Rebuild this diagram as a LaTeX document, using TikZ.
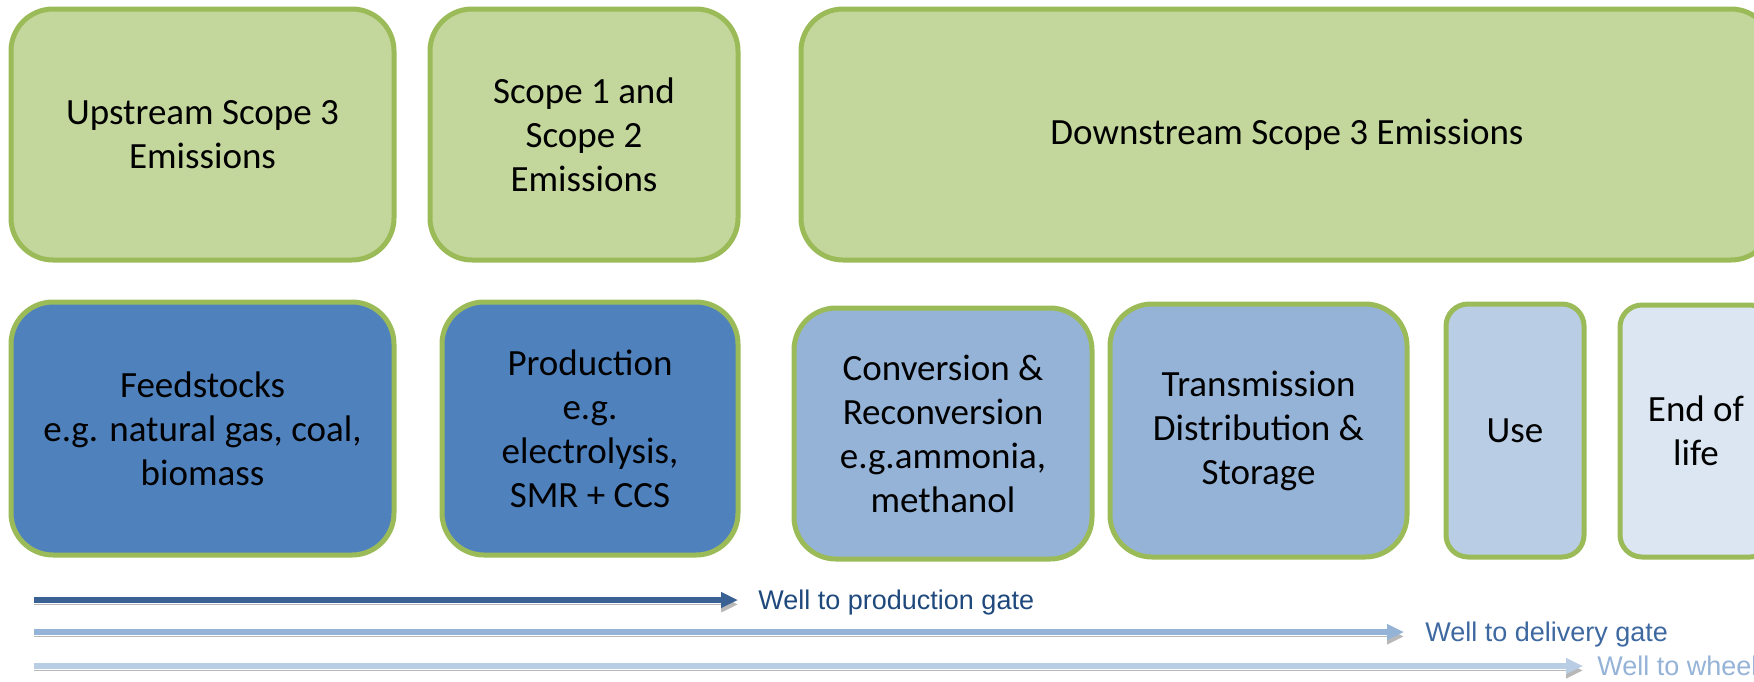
\documentclass[tikz,border=0pt]{standalone}
\usepackage{fontspec}
\setmainfont{Carlito}
\newfontfamily\arialfont{Liberation Sans}
\usetikzlibrary{arrows.meta}

\definecolor{scopegreen}{HTML}{C3D69B}
\definecolor{scopeline}{HTML}{9BBB59}
\definecolor{stagedark}{HTML}{4F81BD}
\definecolor{stagemid}{HTML}{95B3D7}
\definecolor{stagelight}{HTML}{B9CDE5}
\definecolor{stagepale}{HTML}{DCE6F2}
\definecolor{gatedark}{HTML}{3A6193}
\definecolor{labeldark}{HTML}{1F497D}
\definecolor{labelmid}{HTML}{3E68A0}

\begin{document}
\begin{tikzpicture}[x=0.5pt, y=-0.5pt,
    box/.style={draw=scopeline, line width=2.5pt, rounded corners=21pt,
      align=center, inner sep=0pt, font=\fontsize{18.5}{22}\selectfont},
    gate/.style={line width=2.6pt, -{Triangle[length=8.5pt,width=7.5pt]},
      preaction={draw=black!28, transform canvas={yshift=-2.2pt}}},
    gatelabel/.style={anchor=west, inner sep=0pt, text height=12pt, text depth=2.4pt,
      font=\arialfont\fontsize{13.5}{16}\selectfont}]

    \clip (0,0) rectangle (1754,681);

    \node[box, fill=scopegreen, minimum width=191.5pt, minimum height=125.5pt] (upstream) at (202.5,134.5) {Upstream Scope 3\\Emissions};
    \node[box, fill=scopegreen, minimum width=154pt, minimum height=125.5pt] (scopeonetwo) at (584,134.5) {Scope 1 and\\Scope 2\\Emissions};
    \node[box, fill=scopegreen, minimum width=486pt, minimum height=125.5pt] (downstream) at (1287,134.5) {Downstream Scope 3 Emissions};

    \node[box, fill=stagedark, minimum width=191.5pt, minimum height=126.5pt] (feedstocks) at (202.5,428.5) {Feedstocks\\e.g. natural gas, coal,\\biomass};
    \node[box, fill=stagedark, minimum width=148pt, minimum height=126.5pt] (production) at (590,428.5) {Production\\e.g.\\electrolysis,\\SMR + CCS};
    \node[box, fill=stagemid, minimum width=149pt, minimum height=125.5pt] (conversion) at (943,433.5) {Conversion \&\\Reconversion\\e.g.ammonia,\\methanol};
    \node[box, fill=stagemid, minimum width=148.5pt, minimum height=126.5pt] (transmission) at (1258.5,430.5) {Transmission\\Distribution \&\\Storage};
    \node[box, fill=stagelight, rounded corners=11pt, minimum width=69pt, minimum height=126.5pt] (use) at (1515,430.5) {Use};
    \node[box, fill=stagepale, rounded corners=11pt, minimum width=76pt, minimum height=126pt] (endoflife) at (1696,431) {End of\\life};

    \coordinate (prodstart) at (34,600);
    \coordinate (delivstart) at (34,632);
    \coordinate (wheelstart) at (34,666);

    \node[gatelabel, text=labeldark] (prodgate) at (758,600) {Well to production gate};
    \node[gatelabel, text=labelmid] (delivgate) at (1425,632) {Well to delivery gate};
    \node[gatelabel, text=stagemid] (wheelgate) at (1597,666) {Well to wheel};

    \draw[gate, gatedark] (prodstart) -- ([xshift=-10pt]prodgate.west);
    \draw[gate, stagemid] (delivstart) -- ([xshift=-10.5pt]delivgate.west);
    \draw[gate, stagelight] (wheelstart) -- ([xshift=-7pt]wheelgate.west);

\end{tikzpicture}
\end{document}
